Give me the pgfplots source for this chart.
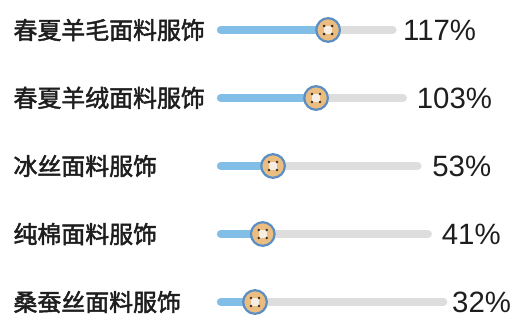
\documentclass[border=0pt]{standalone}
\usepackage{pgfplots}
\pgfplotsset{compat=1.18}
\usepackage{pgfplotstable}
\usepackage{fontspec}
\setmainfont{Liberation Sans}
\newfontfamily\cjk{Noto Sans CJK SC}[FakeBold=2]
\definecolor{barblue}{HTML}{82BFE6}
\definecolor{trackgray}{HTML}{DDDDDD}
\definecolor{btnfill}{HTML}{EBBD80}
\definecolor{btnedge}{HTML}{5B8EC2}
\definecolor{btncenter}{HTML}{F6EEE2}
\definecolor{btnhole}{HTML}{3A3026}
\definecolor{txt}{HTML}{1E1E1E}

\pgfdeclareplotmark{button}{%
  \pgfsetlinewidth{2.2bp}%
  \pgfsetstrokecolor{btnedge}\pgfsetfillcolor{btnfill}%
  \pgfpathcircle{\pgfpointorigin}{11.8bp}\pgfusepath{fill,stroke}%
  \pgfsetfillcolor{btncenter}%
  \pgfpathrectangle{\pgfpoint{-4bp}{-4bp}}{\pgfpoint{8bp}{8bp}}\pgfusepath{fill}%
  \pgfsetfillcolor{btnhole}%
  \pgfpathcircle{\pgfpoint{-4bp}{4bp}}{1.4bp}%
  \pgfpathcircle{\pgfpoint{4bp}{4bp}}{1.4bp}%
  \pgfpathcircle{\pgfpoint{-4bp}{-4bp}}{1.4bp}%
  \pgfpathcircle{\pgfpoint{4bp}{-4bp}}{1.4bp}%
  \pgfusepath{fill}%
}

\pgfplotstableread{
row value trackend labelx namex name
0 117 192 204 -249 春夏羊毛面料服饰
1 103 204 220 -249 春夏羊绒面料服饰
2 53 221 238 -249 冰丝面料服饰
3 41 233 249 -249 纯棉面料服饰
4 32 251 261 -249 桑蚕丝面料服饰
}\datatable

\begin{document}
\begin{tikzpicture}
\begin{axis}[
  x=0.86bp, y=68bp, y dir=reverse,
  xmin=-264.5, xmax=330.8, ymin=-0.441, ymax=4.25,
  hide axis, clip=false,
]
% gray tracks
\addplot[trackgray, line width=8bp, line cap=round, unbounded coords=jump] coordinates {
  (-7.6,0) (192,0) (nan,0)
  (-7.6,1) (204,1) (nan,1)
  (-7.6,2) (221,2) (nan,2)
  (-7.6,3) (233,3) (nan,3)
  (-7.6,4) (251,4)
};
% blue bars
\addplot[barblue, line width=8bp, line cap=round, unbounded coords=jump] coordinates {
  (-7.6,0) (117,0) (nan,0)
  (-7.6,1) (103,1) (nan,1)
  (-7.6,2) (53,2) (nan,2)
  (-7.6,3) (41,3) (nan,3)
  (-7.6,4) (32,4)
};
% buttons
\addplot[only marks, mark=button] table[x=value, y=row] {\datatable};
% value labels
\addplot[draw=none, mark=none, point meta=explicit,
  nodes near coords={\pgfmathprintnumber[assume math mode=true]{\pgfplotspointmeta}\%},
  every node near coord/.style={anchor=west, inner sep=0pt, text=txt, font=\fontsize{29.5}{32}\selectfont}]
  table[x=labelx, y=row, meta=value] {\datatable};
% category labels
\addplot[draw=none, mark=none, point meta=explicit symbolic,
  nodes near coords={\pgfplotspointmeta},
  every node near coord/.style={anchor=west, inner sep=0pt, text=txt, font=\cjk\fontsize{24}{28}\selectfont}]
  table[x=namex, y=row, meta=name] {\datatable};
\end{axis}
\pgfresetboundingbox
\path (current axis.south west) rectangle (current axis.north east);
\end{tikzpicture}
\end{document}
